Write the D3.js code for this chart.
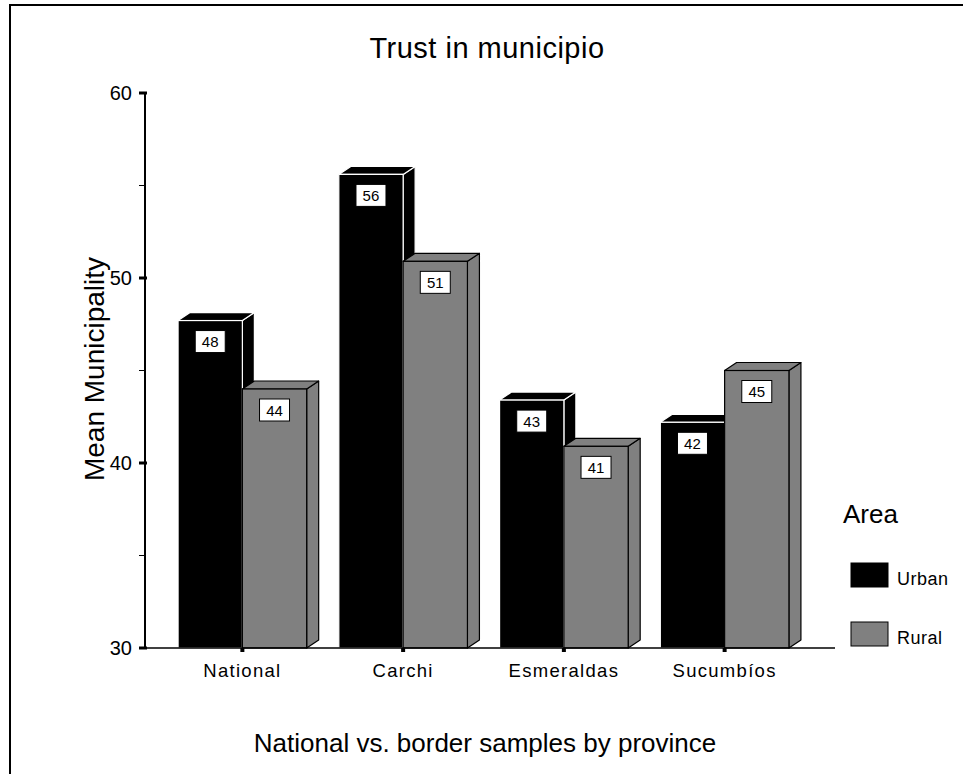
<!DOCTYPE html>
<html>
<head>
<meta charset="utf-8">
<script src="https://cdn.jsdelivr.net/npm/d3@7"></script>
<style>
  body { margin: 0; background: #fff; }
  text { font-family: "Liberation Sans", Arial, sans-serif; fill: #000; }
</style>
</head>
<body>
<div id="chart"></div>
<script>
var categories = ['National', 'Carchi', 'Esmeraldas', 'Sucumbíos'];
var seriesNames = ['Urban', 'Rural'];
var urbanValues = [47.7, 55.6, 43.4, 42.2];
var ruralValues = [44.0, 50.9, 40.9, 45.0];
var yTicks = [30, 40, 50, 60];
var yMinorTicks = [35, 45, 55];

var svgWidth = 963,
	svgHeight = 774,
	depthX = 12,
	depthY = 8;

var colours = { Urban: '#000000', Rural: '#808080' };
var strokes = { Urban: '#ffffff', Rural: '#000000' };

var svg = d3.select('#chart')
	.append('svg')
		.attr('width', svgWidth)
		.attr('height', svgHeight);

// outer frame (right and bottom run off the page)
svg.append('rect')
	.attr('x', 10).attr('y', 5)
	.attr('width', 1000).attr('height', 1000)
	.attr('fill', 'none').attr('stroke', '#000').attr('stroke-width', 2);

var yscale = d3.scaleLinear()
	.domain([30, 60])
	.range([648, 93]);

var x0 = d3.scaleBand()
	.domain(categories)
	.range([162, 805])
	.paddingInner(0.2)
	.paddingOuter(0.1);

var x1 = d3.scaleBand()
	.domain(seriesNames)
	.range([0, x0.bandwidth()]);

var data = categories.map(function (c, i) {
	return { cat: c, values: [
		{ key: 'Urban', value: urbanValues[i] },
		{ key: 'Rural', value: ruralValues[i] }
	] };
});

// title
svg.append('text')
	.attr('x', 487).attr('y', 58)
	.attr('text-anchor', 'middle')
	.style('font-size', '29px')
	.style('letter-spacing', '0.5px')
	.text('Trust in municipio');

// bars
var groups = svg.selectAll('g.cat').data(data)
	.enter().append('g')
		.attr('class', 'cat')
		.attr('transform', function (d) { return 'translate(' + x0(d.cat) + ',0)'; });

var bars = groups.selectAll('g.bar').data(function (d) { return d.values; })
	.enter().append('g')
		.attr('class', 'bar');

bars.each(function (d) {
	var g = d3.select(this);
	var xl = x1(d.key), w = x1.bandwidth();
	var xr = xl + w;
	var top = yscale(d.value), base = yscale(30);
	var fill = colours[d.key], st = strokes[d.key];

	// side face
	g.append('path')
		.attr('d', 'M' + xr + ',' + base + 'L' + (xr + depthX) + ',' + (base - depthY) +
			'L' + (xr + depthX) + ',' + (top - depthY) + 'L' + xr + ',' + top + 'Z')
		.attr('fill', fill).attr('stroke', st).attr('stroke-width', 1.2)
		.attr('stroke-linejoin', 'round');
	// top face
	g.append('path')
		.attr('d', 'M' + xl + ',' + top + 'L' + (xl + depthX) + ',' + (top - depthY) +
			'L' + (xr + depthX) + ',' + (top - depthY) + 'L' + xr + ',' + top + 'Z')
		.attr('fill', fill).attr('stroke', st).attr('stroke-width', 1.2)
		.attr('stroke-linejoin', 'round');
	// front face
	g.append('rect')
		.attr('x', xl).attr('y', top)
		.attr('width', w).attr('height', base - top)
		.attr('fill', fill).attr('stroke', st).attr('stroke-width', 1.2);

	// value label
	var cx = xl + w / 2;
	g.append('rect')
		.attr('x', cx - 15).attr('y', top + 10)
		.attr('width', 30).attr('height', 22)
		.attr('fill', '#fff').attr('stroke', '#000').attr('stroke-width', 1);
	g.append('text')
		.attr('x', cx).attr('y', top + 26.5)
		.attr('text-anchor', 'middle')
		.style('font-size', '15px')
		.text(Math.round(d.value));
});

// baseline over the bars
svg.append('line')
	.attr('x1', 145).attr('x2', 835)
	.attr('y1', 648).attr('y2', 648)
	.attr('stroke', '#000').attr('stroke-width', 1.5);

// y axis
svg.append('line')
	.attr('x1', 145).attr('x2', 145)
	.attr('y1', 93).attr('y2', 648)
	.attr('stroke', '#000').attr('stroke-width', 2);

svg.selectAll('rect.ymajor').data(yTicks)
	.enter().append('rect')
		.attr('class', 'ymajor')
		.attr('x', 139).attr('width', 8)
		.attr('y', function (d) { return yscale(d) - 1.5; })
		.attr('height', 3)
		.attr('fill', '#000');

svg.selectAll('line.yminor').data(yMinorTicks)
	.enter().append('line')
		.attr('class', 'yminor')
		.attr('x1', 139).attr('x2', 145)
		.attr('y1', function (d) { return yscale(d); })
		.attr('y2', function (d) { return yscale(d); })
		.attr('stroke', '#000').attr('stroke-width', 1);

svg.selectAll('text.ylab').data(yTicks)
	.enter().append('text')
		.attr('class', 'ylab')
		.attr('x', 132)
		.attr('y', function (d) { return yscale(d) + 7; })
		.attr('text-anchor', 'end')
		.style('font-size', '20px')
		.text(function (d) { return d; });

// category ticks and labels
svg.selectAll('rect.xtick').data(categories)
	.enter().append('rect')
		.attr('class', 'xtick')
		.attr('x', function (d) { return x0(d) + x0.bandwidth() / 2 - 2; })
		.attr('y', 648).attr('width', 4).attr('height', 4)
		.attr('fill', '#000');

svg.selectAll('text.xlab').data(categories)
	.enter().append('text')
		.attr('class', 'xlab')
		.attr('x', function (d) { return x0(d) + x0.bandwidth() / 2; })
		.attr('y', 677)
		.attr('text-anchor', 'middle')
		.style('font-size', '18.5px')
		.style('letter-spacing', '1.3px')
		.text(function (d) { return d; });

// axis titles
svg.append('text')
	.attr('x', 485).attr('y', 752)
	.attr('text-anchor', 'middle')
	.style('font-size', '26px')
	.text('National vs. border samples by province');

svg.append('text')
	.attr('transform', 'translate(104,369) rotate(-90)')
	.attr('text-anchor', 'middle')
	.style('font-size', '28px')
	.text('Mean Municipality');

// legend
svg.append('text')
	.attr('x', 843).attr('y', 523)
	.style('font-size', '26px')
	.text('Area');

var legend = svg.selectAll('g.legend').data(seriesNames)
	.enter().append('g')
		.attr('class', 'legend')
		.attr('transform', function (d, i) { return 'translate(851,' + (563 + i * 59) + ')'; });

legend.append('rect')
	.attr('width', 37).attr('height', 24)
	.attr('fill', function (d) { return colours[d]; })
	.attr('stroke', '#000').attr('stroke-width', 1);

legend.append('text')
	.attr('x', 46).attr('y', 22)
	.style('font-size', '18px')
	.style('letter-spacing', '0.5px')
	.text(function (d) { return d; });
</script>
</body>
</html>
